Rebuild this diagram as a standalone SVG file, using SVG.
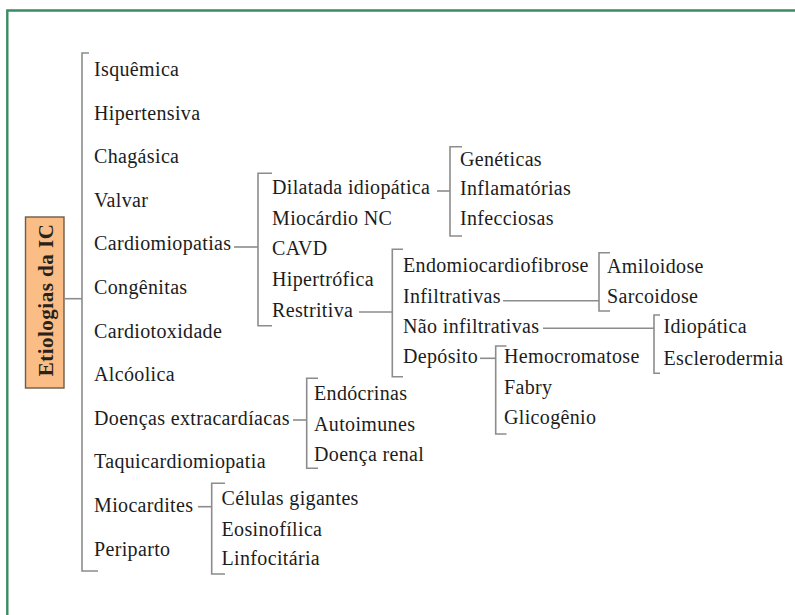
<svg xmlns="http://www.w3.org/2000/svg" width="795" height="615" viewBox="0 0 795 615">
  <style>
    .t { font-family: "Liberation Serif", "Times New Roman", serif; font-size: 20px; fill: #1c1c1c; letter-spacing: 0.35px; }
    .title { font-family: "Liberation Serif", "Times New Roman", serif; font-size: 21px; font-weight: bold; fill: #2a2118; letter-spacing: 0.5px; }
    .ln { fill: none; stroke: #8c8c8c; stroke-width: 1.6; }
  </style>
  <rect x="0" y="0" width="795" height="615" fill="#ffffff"/>
  <!-- outer frame (open at right and bottom) -->
  <path d="M7.3 615 V10.5 H795" fill="none" stroke="#3b8a62" stroke-width="2.4"/>

  <g id="root">
    <rect x="25.5" y="217" width="38.5" height="171" fill="#f9bd85" stroke="#6e5c4c" stroke-width="1.4"/>
    <text class="title" transform="translate(52.5,300) rotate(-90)" text-anchor="middle">Etiologias da IC</text>
  </g>

  <g id="connectors">
    <path class="ln" d="M64 298.7 H82"/>
    <path class="ln" d="M89 53 H82 V571 H98"/>
    <path class="ln" d="M234 247 H258"/>
    <path class="ln" d="M272 173.3 H258 V325.7 H272"/>
    <path class="ln" d="M437 191 H450"/>
    <path class="ln" d="M462 146.7 H450 V236 H462"/>
    <path class="ln" d="M359 312 H392.3"/>
    <path class="ln" d="M403 249.3 H392.3 V376.7 H403"/>
    <path class="ln" d="M503 300.7 H599"/>
    <path class="ln" d="M610 252.7 H599 V311 H610"/>
    <path class="ln" d="M543 328.3 H654"/>
    <path class="ln" d="M660 315 H654 V373.3 H660"/>
    <path class="ln" d="M480 358.3 H495.7"/>
    <path class="ln" d="M506.5 346 H495.7 V434 H506.5"/>
    <path class="ln" d="M293 420 H306.7"/>
    <path class="ln" d="M318 378.3 H306.7 V468.3 H318"/>
    <path class="ln" d="M198 506.7 H211.7"/>
    <path class="ln" d="M225 483.3 H211.7 V574 H225"/>
  </g>

  <g id="level1">
    <text class="t" x="94" y="76">Isquêmica</text>
    <text class="t" x="94" y="119.6">Hipertensiva</text>
    <text class="t" x="94" y="163.2">Chagásica</text>
    <text class="t" x="94" y="206.8">Valvar</text>
    <text class="t" x="94" y="250.4">Cardiomiopatias</text>
    <text class="t" x="94" y="294">Congênitas</text>
    <text class="t" x="94" y="337.6">Cardiotoxidade</text>
    <text class="t" x="94" y="381.2">Alcóolica</text>
    <text class="t" x="94" y="424.8">Doenças extracardíacas</text>
    <text class="t" x="94" y="468.4">Taquicardiomiopatia</text>
    <text class="t" x="94" y="512">Miocardites</text>
    <text class="t" x="94" y="555.6">Periparto</text>
  </g>

  <g id="cardiomiopatias">
    <text class="t" x="272" y="194">Dilatada idiopática</text>
    <text class="t" x="272" y="224.7">Miocárdio NC</text>
    <text class="t" x="272" y="255.4">CAVD</text>
    <text class="t" x="272" y="286">Hipertrófica</text>
    <text class="t" x="272" y="316.7">Restritiva</text>
  </g>

  <g id="dilatada">
    <text class="t" x="460" y="166">Genéticas</text>
    <text class="t" x="460" y="195.3">Inflamatórias</text>
    <text class="t" x="460" y="224.6">Infecciosas</text>
  </g>

  <g id="restritiva">
    <text class="t" x="403" y="272.3">Endomiocardiofibrose</text>
    <text class="t" x="403" y="303.3">Infiltrativas</text>
    <text class="t" x="403" y="333.3">Não infiltrativas</text>
    <text class="t" x="403" y="363.3">Depósito</text>
  </g>

  <g id="infiltrativas">
    <text class="t" x="607" y="273.3">Amiloidose</text>
    <text class="t" x="607" y="303.3">Sarcoidose</text>
  </g>

  <g id="nao-infiltrativas">
    <text class="t" x="663.5" y="333.3">Idiopática</text>
    <text class="t" x="663.5" y="365">Esclerodermia</text>
  </g>

  <g id="deposito">
    <text class="t" x="504" y="363.3">Hemocromatose</text>
    <text class="t" x="504" y="394">Fabry</text>
    <text class="t" x="504" y="424.3">Glicogênio</text>
  </g>

  <g id="extracardiacas">
    <text class="t" x="314" y="400">Endócrinas</text>
    <text class="t" x="314" y="431">Autoimunes</text>
    <text class="t" x="314" y="461">Doença renal</text>
  </g>

  <g id="miocardites">
    <text class="t" x="221.5" y="505">Células gigantes</text>
    <text class="t" x="221.5" y="535.7">Eosinofílica</text>
    <text class="t" x="221.5" y="565">Linfocitária</text>
  </g>
</svg>
